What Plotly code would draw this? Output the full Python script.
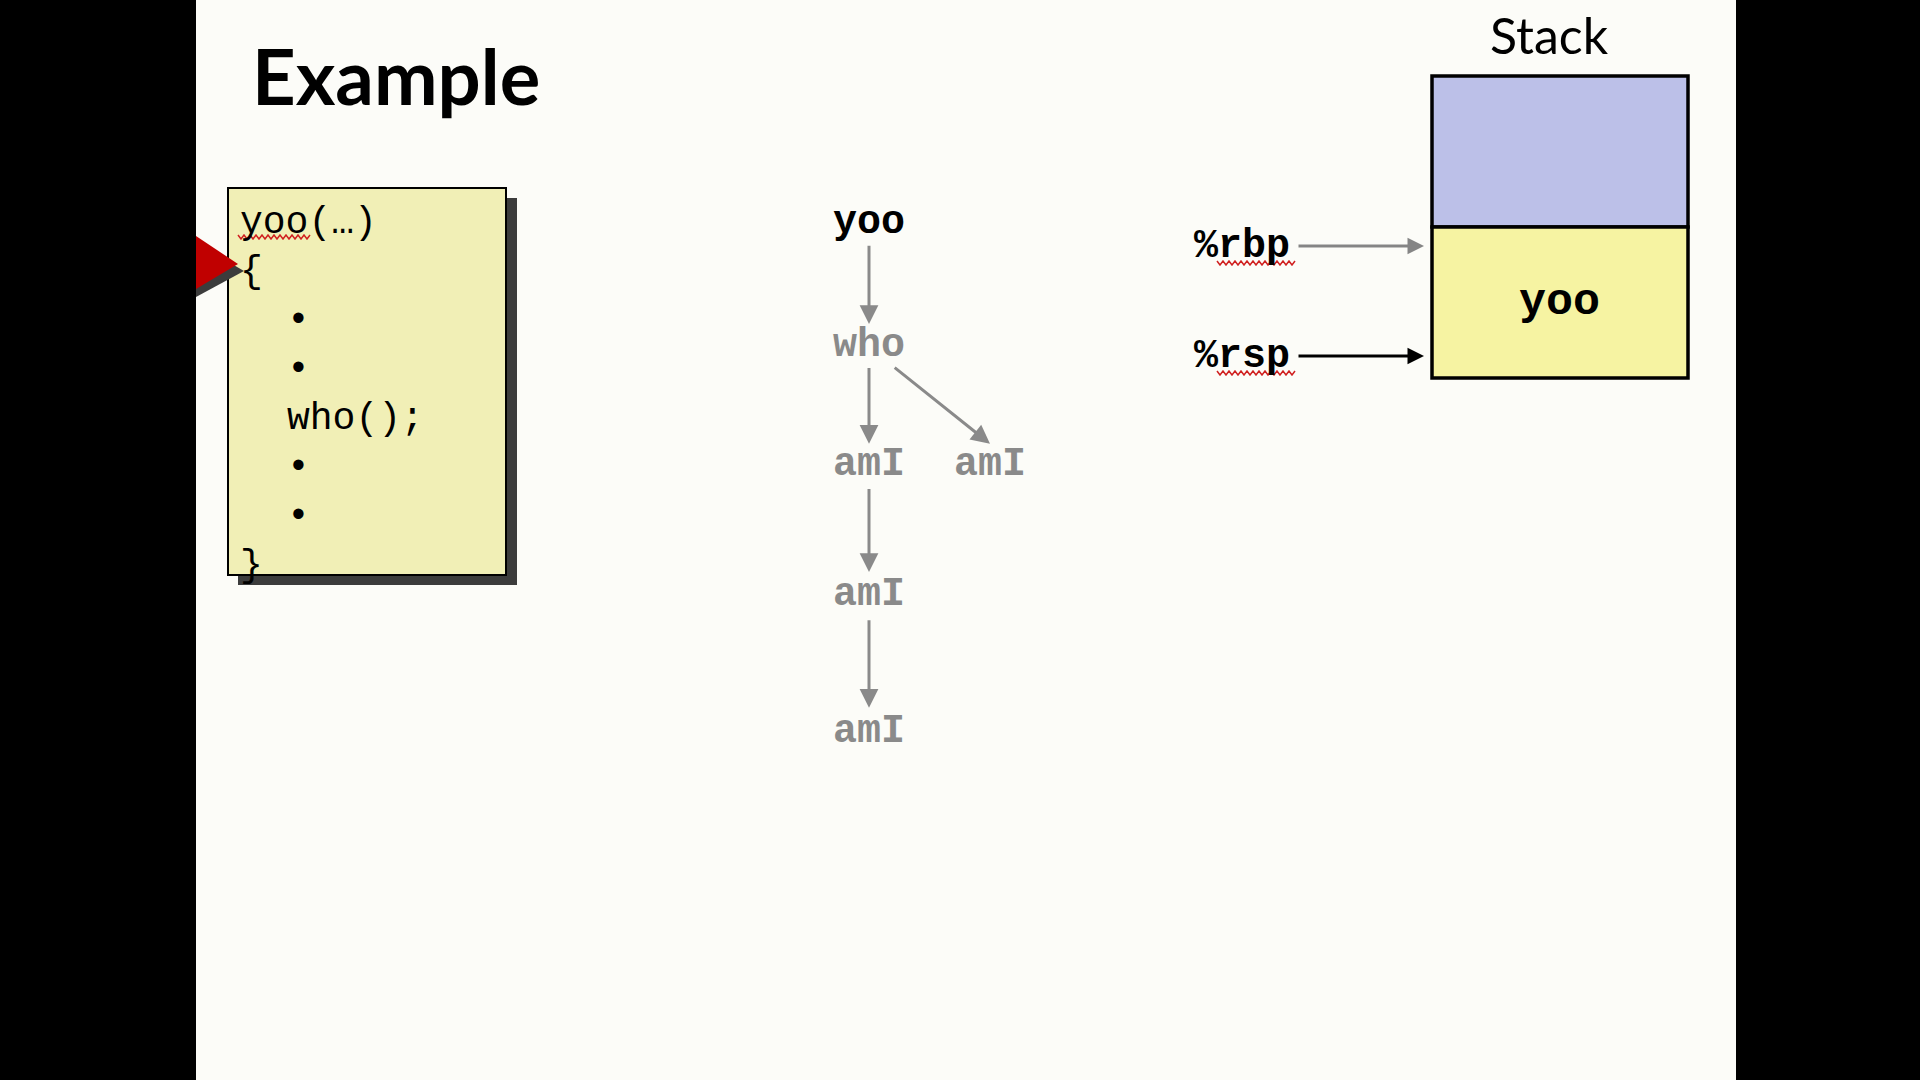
import plotly.graph_objects as go

# codigo da funcao mostrado na caixa amarela (texto, recuo em caracteres)
codigo = ["yoo(…)", "{", "•", "•", "who();", "•", "•", "}"]
recuo = [0, 0, 2, 2, 2, 2, 2, 0]

# arvore de chamadas
nos = ["yoo", "who", "amI", "amI", "amI", "amI"]
nos_x = [869, 869, 869, 990, 869, 869]
nos_y = [222, 345, 464, 464, 594, 731]
nos_ativos = [True, False, False, False, False, False]
arestas = [(0, 1), (1, 2), (1, 3), (2, 4), (4, 5)]

# registradores e pilha
registradores = ["%rbp", "%rsp"]
reg_y = [246, 356]
reg_cor = ["#858585", "#000000"]
quadros = ["", "yoo"]
quadros_topo = [76, 227]
quadros_base = [227, 378]
quadros_cor = ["#bcc0e8", "#f6f3a2"]

MONO = "Liberation Mono, Courier New, monospace"
CINZA = "#8a8a8a"

fig = go.Figure()
shapes = []
annotations = []


def sublinhado(x0, x1, y):
    # linha ondulada vermelha do corretor ortografico
    pts = []
    x = x0
    k = 0
    while x <= x1:
        pts.append(f"{x:.1f} {y + (2 if k % 2 else -2):.1f}")
        x += 3
        k += 1
    return dict(type="path", path="M " + " L ".join(pts), line=dict(color="#d02020", width=1.5), layer="above")


# barras pretas laterais
shapes.append(dict(type="rect", x0=0, x1=196, y0=0, y1=1080, fillcolor="black", line_width=0, layer="above"))
shapes.append(dict(type="rect", x0=1736, x1=1920, y0=0, y1=1080, fillcolor="black", line_width=0, layer="above"))

# titulo
annotations.append(dict(x=250, y=75, text="<b>Example</b>", showarrow=False, xanchor="left", yanchor="middle",
                        font=dict(family="Lato", size=76, color="black")))

# caixa do codigo com sombra
shapes.append(dict(type="rect", x0=238, x1=517, y0=198, y1=585, fillcolor="#3c3c3c", line_width=0, layer="below"))
shapes.append(dict(type="rect", x0=228, x1=506, y0=188, y1=575, fillcolor="#f1efb6",
                   line=dict(color="black", width=2), layer="below"))

largura_char = 23.3
for i, (linha, r) in enumerate(zip(codigo, recuo)):
    annotations.append(dict(x=238 + r * largura_char, y=222 + 49 * i, text=linha, showarrow=False,
                            xanchor="left", yanchor="middle",
                            font=dict(family=MONO, size=38, color="black")))
shapes.append(sublinhado(238, 310, 237))

# seta vermelha (linha atual)
shapes.append(dict(type="path", path="M 196 243 L 244 271 L 196 297 Z", fillcolor="#3c3c3c", line_width=0, layer="above"))
shapes.append(dict(type="path", path="M 196 236 L 238 264 L 196 289 Z", fillcolor="#c00000", line_width=0, layer="above"))

# arvore de chamadas
for nome, x, y, ativo in zip(nos, nos_x, nos_y, nos_ativos):
    annotations.append(dict(x=x, y=y, text="<b>" + nome + "</b>", showarrow=False,
                            xanchor="center", yanchor="middle",
                            font=dict(family=MONO, size=40, color="black" if ativo else CINZA)))

for p, c in arestas:
    dx = nos_x[c] - nos_x[p]
    dy = nos_y[c] - nos_y[p]
    annotations.append(dict(x=nos_x[c], y=nos_y[c] - 0.17 * dy,
                            ax=nos_x[p] + 0.2 * dx, ay=nos_y[p] + 0.18 * dy,
                            xref="x", yref="y", axref="x", ayref="y", text="",
                            showarrow=True, arrowhead=2, arrowsize=1.25, arrowwidth=3, arrowcolor=CINZA))

# pilha
annotations.append(dict(x=1549, y=35, text="Stack", showarrow=False, xanchor="center", yanchor="middle",
                        font=dict(family="Lato", size=50, color="black")))
for nome, y0, y1, cor in zip(quadros, quadros_topo, quadros_base, quadros_cor):
    shapes.append(dict(type="rect", x0=1432, x1=1688, y0=y0, y1=y1, fillcolor=cor,
                       line=dict(color="black", width=3.5), layer="below"))
    if nome:
        annotations.append(dict(x=1559, y=(y0 + y1) / 2, text="<b>" + nome + "</b>", showarrow=False,
                                xanchor="center", yanchor="middle",
                                font=dict(family=MONO, size=45, color="black")))

for nome, y, cor in zip(registradores, reg_y, reg_cor):
    annotations.append(dict(x=1242, y=y, text="<b>" + nome + "</b>", showarrow=False,
                            xanchor="center", yanchor="middle",
                            font=dict(family=MONO, size=40, color="black")))
    annotations.append(dict(x=1424, y=y, ax=1297, ay=y, xref="x", yref="y", axref="x", ayref="y",
                            text="", showarrow=True, arrowhead=2, arrowsize=1.1, arrowwidth=3, arrowcolor=cor))
    shapes.append(sublinhado(1217, 1297, y + 17))

fig.update_layout(
    width=1920, height=1080,
    margin=dict(l=0, r=0, t=0, b=0),
    paper_bgcolor="#fcfcf8", plot_bgcolor="#fcfcf8",
    xaxis=dict(range=[0, 1920], visible=False, fixedrange=True),
    yaxis=dict(range=[1080, 0], visible=False, fixedrange=True),
    shapes=shapes, annotations=annotations, showlegend=False,
)

fig.write_html("out.html", config={"displayModeBar": False},
               post_script="document.body.style.margin='0';")
